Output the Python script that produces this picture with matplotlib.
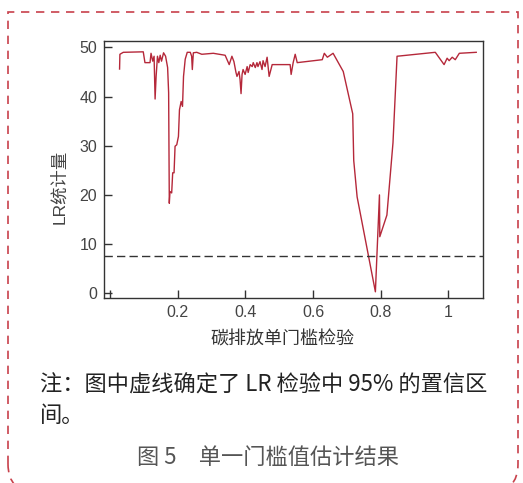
import matplotlib
matplotlib.use("Agg")
import matplotlib.pyplot as plt
from matplotlib.path import Path
from matplotlib.patches import PathPatch

plt.rcParams['font.family'] = ['Liberation Sans', 'Noto Sans CJK SC', 'DejaVu Sans']

# ---- data ----
threshold = [0.028, 0.029, 0.034, 0.039, 0.098, 0.103, 0.118, 0.121, 0.126, 0.130,
             0.133, 0.136, 0.140, 0.144, 0.148, 0.152, 0.158, 0.164, 0.170, 0.173,
             0.175, 0.177, 0.182, 0.185, 0.189, 0.192, 0.197, 0.202, 0.205, 0.210,
             0.214, 0.217, 0.222, 0.228, 0.237, 0.241, 0.243, 0.246, 0.256, 0.271,
             0.305, 0.340, 0.352, 0.360, 0.366, 0.372, 0.375, 0.381, 0.384, 0.387,
             0.390, 0.393, 0.399, 0.405, 0.408, 0.414, 0.420, 0.423, 0.429, 0.434,
             0.437, 0.443, 0.449, 0.452, 0.458, 0.464, 0.470, 0.479, 0.532, 0.535,
             0.541, 0.547, 0.553, 0.627, 0.633, 0.642, 0.659, 0.689, 0.717, 0.720,
             0.730, 0.784, 0.796, 0.797, 0.818, 0.836, 0.848, 0.961, 0.987, 0.996,
             1.002, 1.011, 1.020, 1.032, 1.082]
lr_stat = [45.6, 48.6, 48.8, 49.0, 49.1, 46.9, 46.9, 48.8, 47.2, 48.2,
           39.5, 44.1, 48.2, 46.9, 48.4, 47.2, 48.9, 48.2, 45.9, 40.8,
           18.3, 20.7, 20.4, 24.5, 24.5, 29.9, 30.2, 31.9, 37.3, 39.0,
           38.0, 44.1, 47.6, 49.0, 49.0, 48.2, 45.5, 48.9, 49.0, 48.6,
           48.8, 48.4, 46.5, 48.2, 47.1, 44.9, 44.1, 45.1, 43.5, 40.6,
           44.5, 45.5, 44.5, 46.1, 44.9, 46.5, 46.1, 46.9, 45.9, 46.9,
           46.1, 47.1, 45.5, 47.3, 46.1, 48.0, 44.1, 46.5, 46.5, 44.5,
           46.9, 48.6, 46.9, 47.5, 48.8, 48.0, 48.8, 45.1, 36.5, 27.0,
           19.6, 0.3, 20.0, 11.5, 15.9, 30.6, 48.2, 49.0, 46.5, 47.8,
           47.3, 48.0, 47.5, 48.8, 49.0]
critical_value = 7.6
xtick_values = [0, 0.2, 0.4, 0.6, 0.8, 1.0]
xtick_labels = ['', '0.2', '0.4', '0.6', '0.8', '1']
ytick_values = [0, 10, 20, 30, 40, 50]

W, H = 523, 483
fig = plt.figure(figsize=(W / 100, H / 100), dpi=100)
ax = fig.add_axes([104 / W, 1 - 298 / H, (483 - 104) / W, (298 - 41) / H])

ax.plot(threshold, lr_stat, color='#b5283a', lw=1.0)
ax.axhline(critical_value, color='#333333', lw=1.0, ls=(0, (6, 3)))

ax.set_xlim(-0.018, 1.102)
ax.set_ylim(-0.96, 51.3)
ax.set_xticks(xtick_values)
ax.set_xticklabels(xtick_labels)
ax.set_yticks(ytick_values)
ax.tick_params(direction='in', length=6, width=1.0, color='#333333',
               labelsize=11.5, labelcolor='#444444', pad=5)
for s in ax.spines.values():
    s.set_color('#333333')
    s.set_linewidth(1.0)

cjk = ['Noto Sans CJK SC', 'DejaVu Sans']
ax.set_xlabel('碳排放单门槛检验', family=cjk, fontsize=13, color='#333333')
ax.xaxis.set_label_coords(0.47, -0.128)
ax.set_ylabel('LR统计量', family=['Liberation Sans', 'Noto Sans CJK SC'], fontsize=12.5,
              color='#444444')
ax.yaxis.set_label_coords(-0.098, 0.432)

# note and caption
fig.text(40 / W, 1 - 384 / H, '注：图中虚线确定了 LR 检验中 95% 的置信区',
         family=cjk, fontsize=16, color='#222222', ha='left', va='center', weight='medium')
fig.text(40 / W, 1 - 416 / H, '间。', family=cjk, fontsize=16, color='#222222',
         ha='left', va='center', weight='medium')
fig.text(268 / W, 1 - 457 / H, '图 5　单一门槛值估计结果', family=cjk, fontsize=16,
         color='#555555', ha='center', va='center')

# dashed frame (square top corners, rounded bottom corners)
L, R, T, B, r = 8, 518, 12, 492, 28
verts_px = [(L, B - r), (L, T), (R, T), (R, B - r), (R, B), (R - r, B)]
codes = [Path.MOVETO, Path.LINETO, Path.LINETO, Path.LINETO, Path.CURVE3, Path.CURVE3]
verts = [(x / W, 1 - y / H) for x, y in verts_px]
fig.patches.append(PathPatch(Path(verts, codes), transform=fig.transFigure, fill=False,
                             edgecolor='#c8414b', lw=1.2, ls=(0, (5, 4))))
verts2_px = [(L, B - r), (L, B), (L + r, B)]
verts2 = [(x / W, 1 - y / H) for x, y in verts2_px]
fig.patches.append(PathPatch(Path(verts2, [Path.MOVETO, Path.CURVE3, Path.CURVE3]),
                             transform=fig.transFigure, fill=False,
                             edgecolor='#c8414b', lw=1.2, ls=(0, (5, 4))))

fig.savefig('out.png', dpi=100)
